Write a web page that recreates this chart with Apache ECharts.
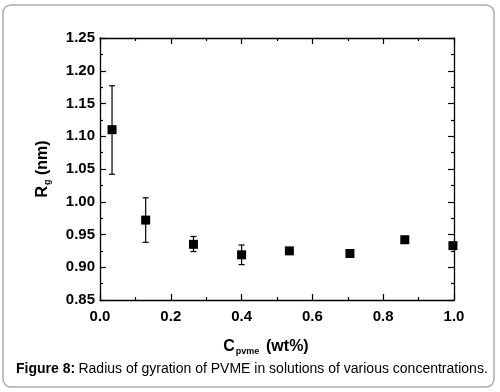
<!DOCTYPE html>
<html>
<head>
<meta charset="utf-8">
<script src="https://cdn.jsdelivr.net/npm/echarts@6/dist/echarts.min.js"></script>
<style>
  html, body { margin: 0; padding: 0; background: #fff; }
  #chart { width: 500px; height: 392px; }
</style>
</head>
<body>
<div id="chart"></div>
<script>
// concentration (wt%) and radius of gyration (nm)
const conc = [0.034, 0.129, 0.264, 0.400, 0.535, 0.706, 0.861, 0.997]
const rg = [1.110, 0.972, 0.935, 0.919, 0.925, 0.921, 0.942, 0.933]
const errLow = [1.042, 0.938, 0.924, 0.904, 0.922, 0.919, 0.940, 0.931]
const errHigh = [1.177, 1.006, 0.947, 0.934, 0.928, 0.923, 0.944, 0.935]

const points = conc.map((c, i) => [c, rg[i]])
const bars = conc.map((c, i) => [c, errLow[i], errHigh[i]])

const font = 'Liberation Sans, Arial, sans-serif'
const chart = echarts.init(document.getElementById('chart'))

// 刻度向内，上下左右都画
function axisBase(show) {
  return {
    type: 'value',
    axisLine: { show: true, onZero: false, lineStyle: { color: '#000', width: 1.3 } },
    axisTick: { show: true, inside: true, length: 6, lineStyle: { color: '#000', width: 1.2 } },
    minorTick: { show: true, splitNumber: 2, length: 3, lineStyle: { color: '#000', width: 1.2 } },
    splitLine: { show: false },
    axisLabel: {
      show: show,
      color: '#000',
      fontFamily: font,
      fontWeight: 'bold',
      fontSize: 15
    }
  }
}

const titleRich = {
  c: { fontFamily: font, fontWeight: 'bold', fontSize: 16, color: '#000' },
  s: { fontFamily: font, fontWeight: 'bold', fontSize: 9, color: '#000', verticalAlign: 'bottom', padding: [10, 0, 0, 1] }
}

const option = {
  animation: false,
  backgroundColor: '#fff',
  grid: { left: 100, right: 46, top: 38, bottom: 92 },
  xAxis: [
    Object.assign(axisBase(true), {
      min: 0, max: 1, interval: 0.2, position: 'bottom',
      axisLabel: Object.assign(axisBase(true).axisLabel, {
        margin: 9,
        formatter: v => v.toFixed(1)
      }),
      name: '{c|C}{s|pvme}  {c|(wt%)}',
      nameLocation: 'middle',
      nameGap: 37,
      nameTextStyle: { padding: [0, 22, 0, 0], rich: titleRich }
    }),
    Object.assign(axisBase(false), { min: 0, max: 1, interval: 0.2, position: 'top' })
  ],
  yAxis: [
    Object.assign(axisBase(true), {
      min: 0.85, max: 1.25, interval: 0.05, position: 'left',
      axisLabel: Object.assign(axisBase(true).axisLabel, {
        margin: 5,
        formatter: v => v.toFixed(2)
      }),
      name: '{c|R}{s|g}{c| (nm)}',
      nameLocation: 'middle',
      nameGap: 48,
      nameRotate: 90,
      nameTextStyle: { rich: titleRich }
    }),
    Object.assign(axisBase(false), { min: 0.85, max: 1.25, interval: 0.05, position: 'right' })
  ],
  series: [
    {
      type: 'custom',
      xAxisIndex: 0,
      yAxisIndex: 0,
      data: bars,
      renderItem: function (params, api) {
        const x = api.value(0)
        const lo = api.coord([x, api.value(1)])
        const hi = api.coord([x, api.value(2)])
        const w = 3
        const style = { stroke: '#000', lineWidth: 1.2 }
        return {
          type: 'group',
          children: [
            { type: 'line', shape: { x1: lo[0], y1: lo[1], x2: hi[0], y2: hi[1] }, style: style },
            { type: 'line', shape: { x1: lo[0] - w, y1: lo[1], x2: lo[0] + w, y2: lo[1] }, style: style },
            { type: 'line', shape: { x1: hi[0] - w, y1: hi[1], x2: hi[0] + w, y2: hi[1] }, style: style }
          ]
        }
      },
      z: 2
    },
    {
      type: 'scatter',
      data: points,
      symbol: 'rect',
      symbolSize: 9,
      itemStyle: { color: '#000', opacity: 1 },
      z: 3
    }
  ],
  graphic: [
    {
      type: 'rect',
      shape: { x: 3, y: 5, width: 491, height: 382, r: 8 },
      style: { fill: 'none', stroke: '#aaa', lineWidth: 1.5 },
      silent: true
    },
    {
      type: 'text',
      left: 16,
      top: 362,
      style: {
        text: '{b|Figure 8:} {n|Radius of gyration of PVME in solutions of various concentrations.}',
        rich: {
          b: { fontFamily: font, fontWeight: 'bold', fontSize: 14, fill: '#000' },
          n: { fontFamily: font, fontSize: 14, fill: '#000' }
        }
      }
    }
  ]
}

chart.setOption(option)
</script>
</body>
</html>
